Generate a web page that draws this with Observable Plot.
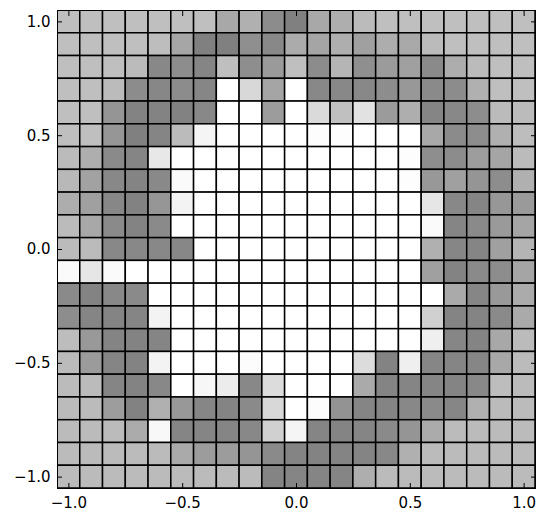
<!DOCTYPE html>
<html><head><meta charset="utf-8">
<script src="https://cdn.jsdelivr.net/npm/d3@7"></script>
<script src="https://cdn.jsdelivr.net/npm/@observablehq/plot@0.6"></script>
<style>body{margin:0;background:#fff;} svg{display:block;}</style>
</head><body><div id="chart"></div>
<script>
const xCenters = [-1.0,-0.9,-0.8,-0.7,-0.6,-0.5,-0.4,-0.3,-0.2,-0.1,0.0,0.1,0.2,0.3,0.4,0.5,0.6,0.7,0.8,0.9,1.0];
const yCenters = [1.0,0.9,0.8,0.7,0.6,0.5,0.4,0.3,0.2,0.1,0.0,-0.1,-0.2,-0.3,-0.4,-0.5,-0.6,-0.7,-0.8,-0.9,-1.0];
const grayRows = [
  [191,191,191,191,191,191,191,168,176,140,128,168,174,187,191,191,191,191,191,191,191],
  [191,191,191,191,189,166,128,128,143,136,171,165,174,160,173,169,187,191,191,191,191],
  [191,191,191,187,136,141,133,191,142,154,191,140,181,143,155,160,138,173,187,191,191],
  [191,191,187,140,135,140,134,255,216,165,255,136,136,136,141,152,138,140,176,191,191],
  [191,191,149,131,131,130,136,255,255,156,255,218,192,226,155,174,133,136,141,187,187],
  [191,191,150,128,133,187,245,255,255,255,255,253,253,255,255,255,168,139,141,176,189],
  [187,174,138,133,232,255,255,255,255,255,255,255,255,255,255,253,142,140,157,165,187],
  [184,162,136,132,137,250,255,255,255,255,255,255,255,255,255,253,152,160,149,141,176],
  [173,160,135,130,150,243,255,255,255,255,255,255,255,255,255,255,230,136,133,151,154],
  [187,168,138,131,138,255,255,255,255,255,255,255,255,255,255,255,250,133,138,154,165],
  [187,187,136,136,136,135,255,255,255,255,255,255,255,255,255,255,176,134,133,160,180],
  [250,230,250,255,255,255,255,255,255,255,255,255,255,255,255,255,160,131,138,141,165],
  [138,131,136,138,255,255,255,255,255,255,255,255,255,255,255,255,255,170,134,153,171],
  [141,133,132,133,243,255,255,255,255,255,255,255,255,255,255,255,208,132,132,138,170],
  [189,153,132,131,133,255,255,255,255,255,255,255,255,255,255,255,239,134,132,168,187],
  [187,155,133,131,243,255,255,255,252,255,255,255,255,220,131,239,134,133,134,168,187],
  [187,187,133,131,136,255,247,236,136,220,255,255,255,170,132,133,133,132,136,189,187],
  [187,187,157,130,176,152,134,132,138,216,255,252,147,133,132,136,138,134,176,187,187],
  [187,187,187,171,248,133,133,133,136,208,245,133,132,133,138,149,171,187,187,187,187],
  [187,187,187,187,187,170,156,156,149,138,132,131,132,132,136,176,187,187,187,187,187],
  [187,187,187,187,187,187,187,187,187,132,133,133,133,174,187,187,187,187,187,187,187]
];
const tickValues = [-1, -0.5, 0, 0.5, 1];
const tickLabels = ["\u22121.0", "\u22120.5", "0.0", "0.5", "1.0"];
const half = 0.05;

const cells = [];
grayRows.forEach((row, r) => row.forEach((g, c) => cells.push({x: xCenters[c], y: yCenters[r], g})));
const fmt = d => tickLabels[tickValues.indexOf(d)];

const chart = Plot.plot({
  width: 547, height: 523,
  marginLeft: 57, marginRight: 12, marginTop: 10, marginBottom: 35,
  style: {fontFamily: "DejaVu Sans", fontSize: "15px", color: "black", background: "white"},
  x: {domain: [-1.05, 1.05], ticks: tickValues, tickFormat: fmt},
  y: {domain: [-1.05, 1.05], ticks: tickValues, tickFormat: fmt},
  color: {type: "identity"},
  marks: [
    Plot.rect(cells, {
      x1: d => d.x - half, x2: d => d.x + half,
      y1: d => d.y - half, y2: d => d.y + half,
      fill: d => `rgb(${d.g},${d.g},${d.g})`,
      stroke: "black", strokeWidth: 1.5, clip: true
    }),
    Plot.frame({stroke: "black", strokeWidth: 1}),
    Plot.axisX(tickValues, {anchor: "bottom", tickSize: 0, tickPadding: 9, tickFormat: fmt, fontSize: 15}),
    Plot.axisY(tickValues, {anchor: "left", tickSize: 0, tickPadding: 7, tickFormat: fmt, fontSize: 15}),
    Plot.axisX(tickValues, {anchor: "bottom", tickSize: -5, text: null}),
    Plot.axisX(tickValues, {anchor: "top", tickSize: -5, text: null}),
    Plot.axisY(tickValues, {anchor: "left", tickSize: -5, text: null}),
    Plot.axisY(tickValues, {anchor: "right", tickSize: -5, text: null})
  ]
});
document.getElementById("chart").appendChild(chart);
</script>
</body></html>
